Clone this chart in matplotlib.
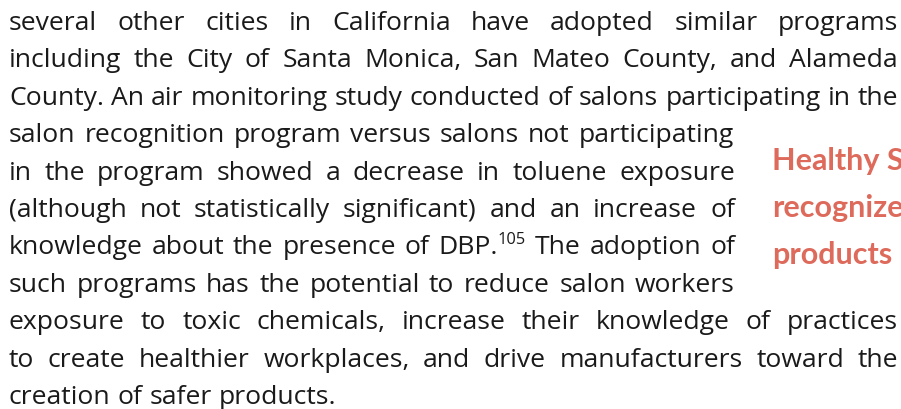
import matplotlib
matplotlib.use("Agg")
import matplotlib.pyplot as plt

W, H, DPI = 901, 410, 100

FONT = "Open Sans"
QUOTE_FONT = "Lato"
BODY_COLOR = "#1a1a1a"
QUOTE_COLOR = "#dd6a5b"

# (text, right edge, justified)
body_lines = [
    ("several other cities in California have adopted similar programs", 898, True),
    ("including the City of Santa Monica, San Mateo County, and Alameda", 898, True),
    ("County. An air monitoring study conducted of salons participating in the", 898, True),
    ("salon recognition program versus salons not participating", 734, True),
    ("in the program showed a decrease in toluene exposure", 735, True),
    ("(although not statistically significant) and an increase of", 735, True),
    ("knowledge about the presence of DBP.^105 The adoption of", 735, True),
    ("such programs has the potential to reduce salon workers", 735, True),
    ("exposure to toxic chemicals, increase their knowledge of practices", 898, True),
    ("to create healthier workplaces, and drive manufacturers toward the", 898, True),
    ("creation of safer products.", 898, False),
]
quote_lines = ["Healthy Salons", "recognized", "products"]

LEFT = 9
BASE0 = 30
PITCH = 37.4
QX = 772
QBASE0 = 170
QPITCH = 47
QUOTE_PX = 30.5

fig = plt.figure(figsize=(W / DPI, H / DPI), dpi=DPI)
fig.patch.set_facecolor("white")
renderer = fig.canvas.get_renderer()

def px2pt(px):
    return px * 72 / DPI

def fy(y_px):
    return 1 - y_px / H

def measure(s, size_px, weight="normal", family=FONT):
    t = fig.text(0, 0, s, fontsize=px2pt(size_px), family=family, weight=weight)
    w = t.get_window_extent(renderer).width
    t.remove()
    return w

# fit body size so the tightest line (line 3) fits with natural spacing
ref_px = 24.0
natural = measure(body_lines[2][0], ref_px)
BODY_PX = ref_px * (898 - LEFT - 2) / natural

space_w = measure("a a", BODY_PX) - measure("aa", BODY_PX)

def word_parts(word):
    if "^" in word:
        main, sup = word.split("^")
        return [(main, BODY_PX, 0), (sup, BODY_PX * 0.62, BODY_PX * 0.38)]
    return [(word, BODY_PX, 0)]

def word_width(word):
    return sum(measure(p, s) for p, s, _ in word_parts(word))

for i, (line, right, just) in enumerate(body_lines):
    words = line.split(" ")
    widths = [word_width(w) for w in words]
    base = BASE0 + i * PITCH
    if just and len(words) > 1:
        gap = (right - LEFT - sum(widths)) / (len(words) - 1)
    else:
        gap = space_w
    x = LEFT
    for w, ww in zip(words, widths):
        xx = x
        for p, s, rise in word_parts(w):
            fig.text(xx / W, fy(base) + rise / H, p, fontsize=px2pt(s), family=FONT,
                     color=BODY_COLOR, ha="left", va="baseline")
            xx += measure(p, s)
        x += ww + gap

for j, q in enumerate(quote_lines):
    fig.text(QX / W, fy(QBASE0 + j * QPITCH), q, fontsize=px2pt(QUOTE_PX), family=QUOTE_FONT,
             weight="bold", color=QUOTE_COLOR, ha="left", va="baseline")

fig.savefig("out.png", dpi=DPI, facecolor="white")
